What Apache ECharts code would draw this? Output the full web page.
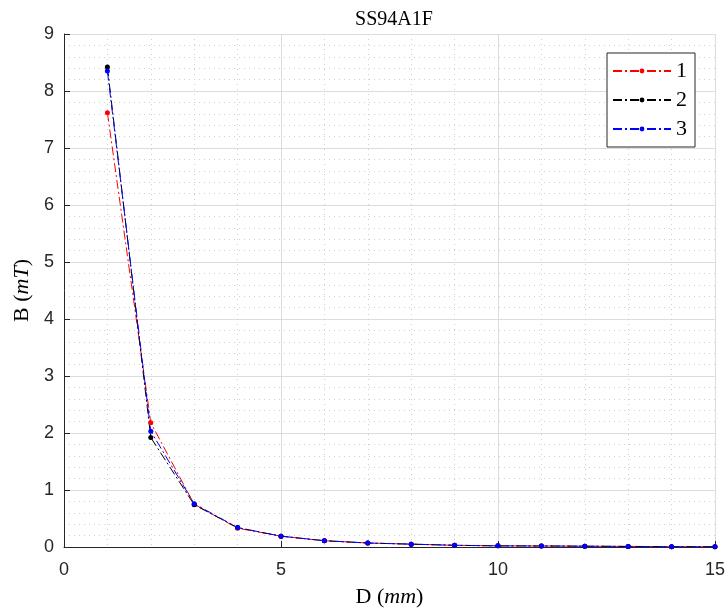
<!DOCTYPE html>
<html><head><meta charset="utf-8">
<script src="https://cdn.jsdelivr.net/npm/echarts@6/dist/echarts.min.js"></script>
<style>html,body{margin:0;padding:0;background:#fff}#c{width:728px;height:613px}</style>
</head><body><div id="c"></div>
<script>
const xValues = [1,2,3,4,5,6,7,8,9,10,11,12,13,14,15];
const series1 = [7.62,2.18,0.75,0.33,0.19,0.11,0.07,0.05,0.03,0.02,0.018,0.014,0.01,0.006,0.004];
const series2 = [8.42,1.92,0.74,0.34,0.19,0.11,0.07,0.05,0.03,0.02,0.018,0.014,0.01,0.006,0.004];
const series3 = [8.35,2.03,0.76,0.34,0.19,0.11,0.07,0.05,0.03,0.02,0.018,0.014,0.01,0.006,0.004];
const seriesNames = ['1','2','3'];
const seriesColors = ['#ff0000','#000000','#0000ff'];

const pairs = arr => xValues.map((x,i)=>[x,arr[i]]);
const all = [series1,series2,series3];
const chart = echarts.init(document.getElementById('c'));
const axisCol = '#262626';
const nameRich = {a:{fontFamily:'Liberation Serif',fontSize:22,color:'#000'},b:{fontFamily:'Liberation Serif',fontSize:22,fontStyle:'italic',color:'#000'}};
chart.setOption({
  animation:false,
  backgroundColor:'#fff',
  title:{text:'SS94A1F',left:389,textAlign:'center',top:5,textStyle:{fontFamily:'Liberation Serif',fontSize:20,fontWeight:'normal',color:'#000'}},
  grid:{left:64,right:13,top:34,bottom:63},
  legend:{
    right:33,top:53,orient:'vertical',
    backgroundColor:'#fff',borderColor:axisCol,borderWidth:1,
    padding:[7,8,7,5],itemGap:7,itemWidth:58,itemHeight:6,
    textStyle:{fontFamily:'Liberation Serif',fontSize:22,color:'#000'},
    data:seriesNames
  },
  xAxis:{type:'value',min:0,max:15,interval:5,
    name:'{a|D (}{b|mm}{a|)}',nameLocation:'middle',nameGap:39,
    nameTextStyle:{rich:nameRich},
    axisLine:{lineStyle:{color:axisCol,width:1}},
    axisTick:{inside:true,length:6,lineStyle:{color:axisCol}},
    axisLabel:{fontFamily:'Liberation Sans',fontSize:18,color:axisCol,margin:14},
    splitLine:{show:true,lineStyle:{color:'#dcdcdc',width:1}},
    minorTick:{show:false,splitNumber:5},
    minorSplitLine:{show:true,lineStyle:{color:'#d0d0d0',type:[1,4],width:1}}
  },
  yAxis:{type:'value',min:0,max:9,interval:1,
    name:'{a|B (}{b|mT}{a|)}',nameLocation:'middle',nameGap:30,nameRotate:90,
    nameTextStyle:{rich:nameRich},
    axisLine:{show:true,lineStyle:{color:axisCol,width:1}},
    axisTick:{show:true,inside:true,length:6,lineStyle:{color:axisCol}},
    axisLabel:{fontFamily:'Liberation Sans',fontSize:18,color:axisCol,margin:10},
    splitLine:{show:true,lineStyle:{color:'#dcdcdc',width:1}},
    minorTick:{show:false,splitNumber:5},
    minorSplitLine:{show:true,lineStyle:{color:'#d0d0d0',type:[1,4],width:1}}
  },
  series: all.map((arr,i)=>({
    name:seriesNames[i],type:'line',data:pairs(arr),
    symbol:'circle',symbolSize:5,showSymbol:true,
    itemStyle:{color:seriesColors[i]},
    lineStyle:{color:seriesColors[i],width:1,type:[9,3,2,3]}
  }))
});
</script></body></html>
